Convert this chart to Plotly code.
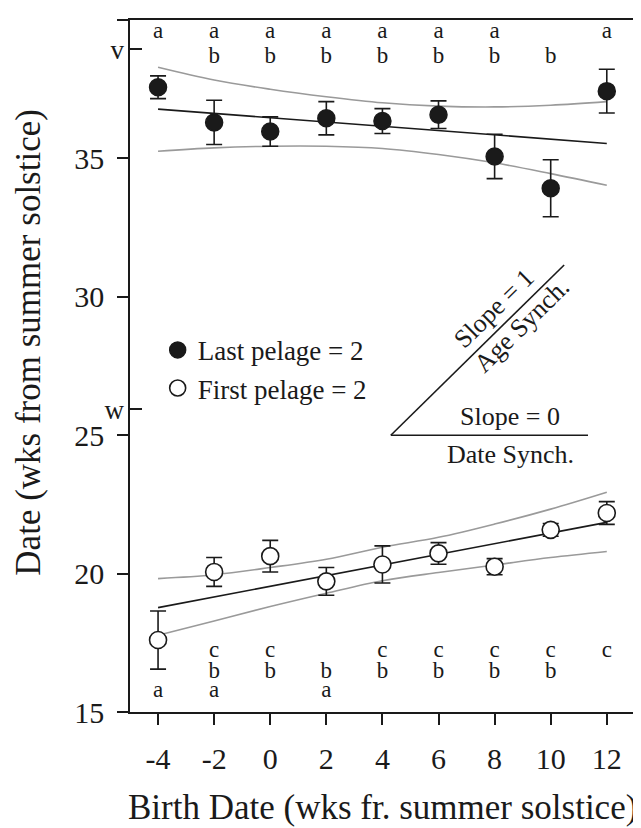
import plotly.graph_objects as go

# ---------------- data ----------------
birth_week = [-4, -2, 0, 2, 4, 6, 8, 10, 12]

last_pelage_mean = [37.57, 36.30, 35.97, 36.45, 36.35, 36.58, 35.07, 33.92, 37.43]
last_pelage_err = [0.41, 0.80, 0.53, 0.60, 0.45, 0.50, 0.80, 1.03, 0.79]
first_pelage_mean = [17.60, 20.06, 20.63, 19.72, 20.33, 20.73, 20.25, 21.58, 22.19]
first_pelage_err = [1.05, 0.52, 0.57, 0.50, 0.67, 0.39, 0.29, 0.23, 0.41]

fit_x = [-4, 12]
last_fit = [36.78, 35.54]
first_fit = [18.77, 21.85]

last_ci_upper = [38.29, 37.83, 37.50, 37.23, 37.01, 36.89, 36.86, 36.92, 37.05]
last_ci_lower = [35.26, 35.38, 35.44, 35.44, 35.36, 35.14, 34.84, 34.45, 34.03]
first_ci_upper = [19.82, 19.96, 20.22, 20.52, 20.95, 21.31, 21.79, 22.33, 22.94]
first_ci_lower = [17.77, 18.29, 18.81, 19.29, 19.74, 20.04, 20.31, 20.58, 20.80]

last_letters_row1 = ['a', 'a', 'a', 'a', 'a', 'a', 'a', '', 'a']
last_letters_row2 = ['', 'b', 'b', 'b', 'b', 'b', 'b', 'b', '']
first_letters_row1 = ['', 'c', 'c', '', 'c', 'c', 'c', 'c', 'c']
first_letters_row2 = ['', 'b', 'b', 'b', 'b', 'b', 'b', 'b', '']
first_letters_row3 = ['a', 'a', '', 'a', '', '', '', '', '']

x_tickvals = [-4, -2, 0, 2, 4, 6, 8, 10, 12]
x_ticktext = ['-4', '-2', '0', '2', '4', '6', '8', '10', '12']
y_tickvals = [15, 20, 25, 30, 35, 40]
marker_tickvals = [38.95, 25.93]
marker_ticktext = ['v', 'w']

series_names = ['Last pelage = 2', 'First pelage = 2']
x_title = 'Birth Date (wks fr. summer solstice)'
y_title = 'Date (wks from summer solstice)'

# ---------------- style ----------------
FONT = 'Liberation Serif'
INK = '#1a1a1a'
GREY = '#9a9a9a'
LETTER_Y = {'top1': 39.54, 'top2': 38.67, 'bot1': 17.21, 'bot2': 16.42, 'bot3': 15.76}

fig = go.Figure()

# confidence bands (grey)
for ys in (last_ci_upper, last_ci_lower, first_ci_upper, first_ci_lower):
    fig.add_trace(go.Scatter(x=birth_week, y=ys, mode='lines',
                             line=dict(color=GREY, width=1.6, shape='spline'),
                             showlegend=False, hoverinfo='skip'))
# regression lines
for ys in (last_fit, first_fit):
    fig.add_trace(go.Scatter(x=fit_x, y=ys, mode='lines',
                             line=dict(color=INK, width=1.6),
                             showlegend=False, hoverinfo='skip'))

# points with error bars
fig.add_trace(go.Scatter(
    x=birth_week, y=last_pelage_mean, mode='markers', name=series_names[0],
    legendgroup='g1',
    marker=dict(symbol='circle', size=17, color=INK, line=dict(color=INK, width=1.5)),
    error_y=dict(type='data', array=last_pelage_err, visible=True,
                 color=INK, thickness=1.6, width=8)))
fig.add_trace(go.Scatter(
    x=birth_week, y=first_pelage_mean, mode='markers', name=series_names[1],
    legendgroup='g2',
    marker=dict(symbol='circle', size=17, color='white', line=dict(color=INK, width=1.6)),
    error_y=dict(type='data', array=first_pelage_err, visible=True,
                 color=INK, thickness=1.6, width=8)))

# significance letters
for key, letters in (('top1', last_letters_row1), ('top2', last_letters_row2),
                     ('bot1', first_letters_row1), ('bot2', first_letters_row2),
                     ('bot3', first_letters_row3)):
    fig.add_trace(go.Scatter(x=birth_week, y=[LETTER_Y[key]] * len(birth_week),
                             mode='text', text=letters, textposition='middle center',
                             textfont=dict(family=FONT, size=23, color=INK),
                             showlegend=False, hoverinfo='skip'))

# v / w marks on the y axis (second overlaid axis, inside ticks)
fig.add_trace(go.Scatter(x=[None], y=[None], yaxis='y2', showlegend=False, hoverinfo='skip'))

# slope reference lines
fig.add_shape(type='line', xref='x', yref='y', x0=4.30, y0=25.0, x1=10.48, y1=31.15,
              line=dict(color=INK, width=1.6))
fig.add_shape(type='line', xref='x', yref='y', x0=4.30, y0=25.0, x1=11.33, y1=25.0,
              line=dict(color=INK, width=1.6))

ann_font = dict(family=FONT, size=26, color=INK)
fig.add_annotation(x=7.98, y=29.58, xref='x', yref='y', text='Slope = 1', showarrow=False,
                   textangle=-44.5, font=ann_font)
fig.add_annotation(x=8.96, y=28.97, xref='x', yref='y', text='Age Synch.', showarrow=False,
                   textangle=-44.5, font=ann_font)
fig.add_annotation(x=8.56, y=25.66, xref='x', yref='y', text='Slope = 0', showarrow=False,
                   font=ann_font)
fig.add_annotation(x=8.56, y=24.32, xref='x', yref='y', text='Date Synch.', showarrow=False,
                   font=ann_font)

# axis titles
title_font = dict(family=FONT, size=35, color=INK)
fig.add_annotation(x=-0.2016, y=0.5343, xref='paper', yref='paper', text=y_title,
                   showarrow=False, textangle=-90, font=title_font,
                   xanchor='center', yanchor='middle')
fig.add_annotation(x=0.5, y=-0.1374, xref='paper', yref='paper', text=x_title,
                   showarrow=False, font=title_font, xanchor='center', yanchor='middle')

axis_common = dict(showgrid=False, zeroline=False, showline=True, linecolor=INK,
                   linewidth=1.6, ticks='outside', ticklen=11, tickwidth=1.6,
                   tickcolor=INK, tickfont=dict(family=FONT, size=30, color=INK))

# the page adds an 8 px body margin, so the figure is 8 px smaller on each axis
fig.update_layout(
    width=633, height=820,
    margin=dict(l=122, r=5, t=12, b=116),
    paper_bgcolor='white', plot_bgcolor='white',
    font=dict(family=FONT, color=INK),
    xaxis=dict(range=[-5.0, 12.97], tickvals=x_tickvals, ticktext=x_ticktext,
               mirror=True, ticklabelstandoff=8, **axis_common),
    yaxis=dict(range=[15, 40], tickvals=y_tickvals, mirror=True,
               ticklabelstandoff=7, **axis_common),
    yaxis2=dict(range=[15, 40], overlaying='y', anchor='x', side='left',
                tickvals=marker_tickvals, ticktext=marker_ticktext,
                showgrid=False, zeroline=False, showline=False,
                ticks='inside', ticklen=12, tickwidth=1.6, tickcolor=INK,
                ticklabelstandoff=5,
                tickfont=dict(family=FONT, size=27, color=INK)),
    legend=dict(x=0.0549, y=0.558, xanchor='left', yanchor='top',
                font=dict(family=FONT, size=27, color=INK),
                bgcolor='rgba(0,0,0,0)', tracegroupgap=0),
    showlegend=True,
)

fig.write_html('out.html')
